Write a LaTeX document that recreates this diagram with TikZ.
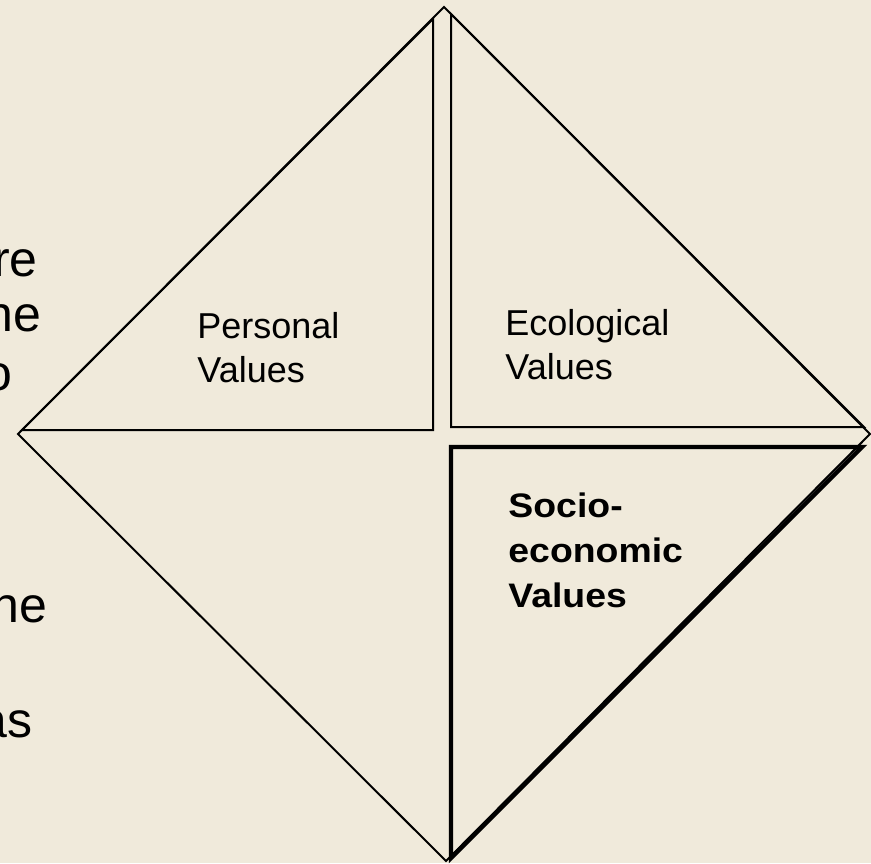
\documentclass[tikz,border=0pt]{standalone}
\usepackage{fontspec}
\setmainfont{Liberation Sans}
\newfontfamily\sociofont[FakeStretch=1.1]{Liberation Sans}
\usepackage{tikz}
\definecolor{parchment}{RGB}{240,234,219}
\newcommand{\fragment}[3]{%
 \node ({#1}) [frag] at ({#2}) {#3};%
}
\newcommand{\valuelabel}[3]{%
 \node ({#1}) [valtext] at ({#2}) {#3};%
}

\begin{document}
\begin{tikzpicture}[x=0.5pt,y=-0.5pt,line join=miter,
   rim/.style={draw=black,line width=1pt},
   boldrim/.style={draw=black,line width=2.2pt},
   frag/.style={anchor=base east,inner sep=0pt,font=\fontsize{25}{28.5}\selectfont},
   valtext/.style={anchor=base west,inner sep=0pt,align=left,font=\fontsize{18}{22}\selectfont}]
   \fill[parchment] (0,0) rectangle (871,863);
   \useasboundingbox (0,0) rectangle (871,863);
   \fragment{f1}{38,276}{re};
   \fragment{f2}{42,331}{he};
   \fragment{f3}{13,390}{o};
   \fragment{f4}{48,622}{he};
   \fragment{f5}{33,737}{as};
   \coordinate (top) at (444,7);
   \coordinate (right) at (870,434);
   \coordinate (bottom) at (446,861);
   \coordinate (left) at (18,434);
   \draw[rim] (top) -- (right) -- (bottom) -- (left) -- cycle;
   \draw[rim] (22,430) -- (433,430) -- (433,19) -- cycle;
   \draw[rim] (451,14) -- (451,427) -- (864,427) -- cycle;
   \draw[boldrim] (451,447) -- (862,447) -- (451,858) -- cycle;
   \valuelabel{personal}{197,382}{Personal\\Values};
   \valuelabel{ecological}{505,379}{Ecological\\Values};
   \node (socio) [valtext,font=\sociofont\fontsize{17}{22.5}\selectfont\bfseries] at (508,607) {Socio-\\economic\\Values};
  \end{tikzpicture}
\end{document}
